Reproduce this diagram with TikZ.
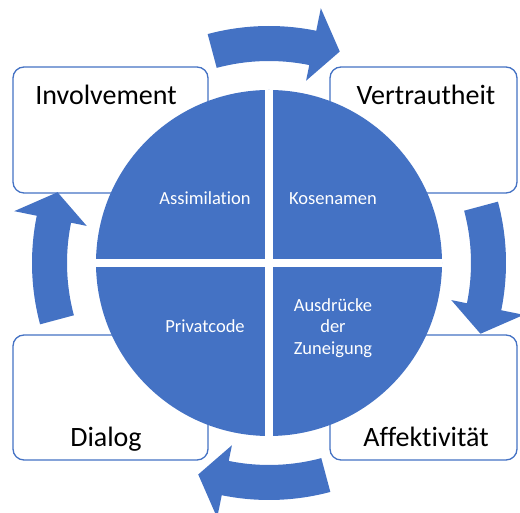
\documentclass[tikz,border=0pt]{standalone}
\usepackage{fontspec}
\setmainfont[Ligatures=NoCommon]{Carlito}
\definecolor{accent}{HTML}{4472C4}
\begin{document}
\begin{tikzpicture}[x=1pt,y=1pt,
  framebox/.style={draw=accent, line width=1.3pt, rounded corners=11pt, fill=white,
    minimum width=195pt, minimum height=126pt, inner sep=0pt},
  boxlabel/.style={font=\fontsize{28}{34}\selectfont, text=black, inner sep=0pt, anchor=base},
  quarterlabel/.style={font=\fontsize{18.5}{21.5}\selectfont, text=white, inner sep=0pt,
    align=center, anchor=base},
  pics/ringarrow/.style={code={
    \fill[accent] ({#1+15}:237) arc[start angle={#1+15}, end angle={#1-11.5}, radius=237]
      -- ({#1-11.5}:260) -- ({#1-18.5}:223) -- ({#1-11.5}:186) -- ({#1-11.5}:202)
      arc[start angle={#1-11.5}, end angle={#1+15}, radius=202] -- cycle;
  }}]
\useasboundingbox (0,0) rectangle (520,513);

% four outer frames
\node[framebox] (inv) at (110.5,383) {};
\node[framebox, minimum width=187pt] (ver) at (423.5,383) {};
\node[framebox, minimum height=125pt] (dia) at (110.5,115.5) {};
\node[framebox, minimum width=187pt, minimum height=125pt] (aff) at (423.5,115.5) {};

% centre of the cycle
\coordinate (c) at (269,250);

% curved arrows running clockwise around the disc
\pic at (c) {ringarrow=90};
\pic at (c) {ringarrow=0};
\pic at (c) {ringarrow=270};
\pic at (c) {ringarrow=180};

% disc split into four quarters
\node[circle, fill=accent, minimum size=346pt, inner sep=0pt] (disc) at (c) {};
\draw[white, line width=8pt] (disc.north) -- (disc.south);
\draw[white, line width=8pt] (disc.west) -- (disc.east);

% frame titles
\node[boxlabel] (tinv) at (106,408) {Involvement};
\node[boxlabel] (tver) at (426,408) {Vertrautheit};
\node[boxlabel] (tdia) at (106,66) {Dialog};
\node[boxlabel] (taff) at (426,66) {Affektivität};

% quarter titles
\node[quarterlabel] (qa) at (205,308) {Assimilation};
\node[quarterlabel] (qk) at (333,308) {Kosenamen};
\node[quarterlabel] (qp) at (205,180) {Privatcode};
\node[quarterlabel, anchor=center] (qz) at (333,185) {Ausdrücke\\der\\Zuneigung};
\end{tikzpicture}
\end{document}
